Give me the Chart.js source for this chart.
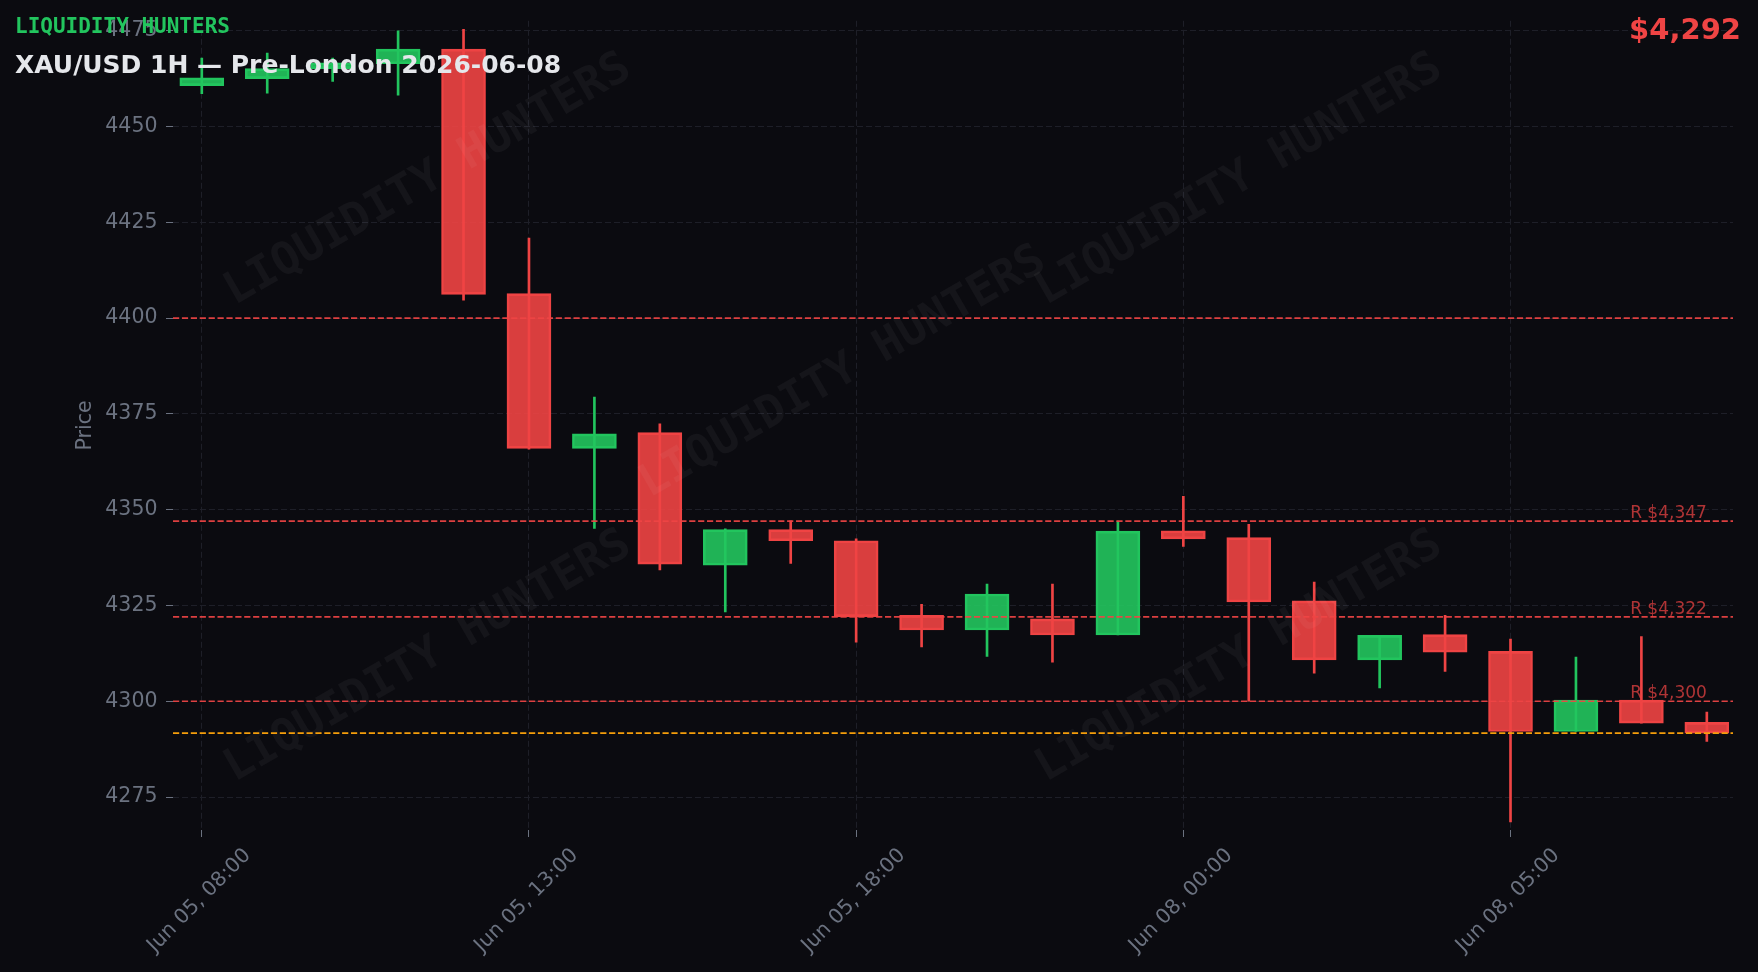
<!DOCTYPE html>
<html>
<head>
<meta charset="utf-8">
<title>XAU/USD 1H — Pre-London 2026-06-08</title>
<script src="https://cdn.jsdelivr.net/npm/chart.js@4/dist/chart.umd.min.js"></script>
<style>
	html, body { margin: 0; padding: 0; background: #0b0b10; overflow: hidden; }
	canvas { display: block; }
</style>
</head>
<body>
<canvas id="chart" width="1758" height="972"></canvas>
<script>
// hourly candles, Jun 05 08:00 -> Jun 08 08:00 (weekend gap)
const opens  = [4460.7, 4462.5, 4465.1, 4466.4, 4470.2, 4406.4, 4366.0, 4370.1, 4335.5, 4344.8, 4341.9, 4322.4, 4318.6, 4321.5, 4317.3, 4344.5, 4342.7, 4326.2, 4310.8, 4317.4, 4313.0, 4292.1, 4300.3, 4294.5];
const highs  = [4467.9, 4469.2, 4467.9, 4475.0, 4475.4, 4420.9, 4379.4, 4372.4, 4345.0, 4347.1, 4342.4, 4325.3, 4330.6, 4330.6, 4347.0, 4353.5, 4346.2, 4331.1, 4317.2, 4322.4, 4316.2, 4311.5, 4316.9, 4297.2];
const lows   = [4458.6, 4458.7, 4461.8, 4458.2, 4404.7, 4365.8, 4345.1, 4334.3, 4323.3, 4336.0, 4315.4, 4314.2, 4311.7, 4310.2, 4317.3, 4340.4, 4300.0, 4307.3, 4303.5, 4307.8, 4268.5, 4292.1, 4294.3, 4289.5];
const closes = [4462.7, 4465.1, 4466.6, 4470.2, 4406.2, 4366.0, 4369.8, 4335.8, 4344.8, 4341.9, 4322.1, 4318.6, 4328.0, 4317.3, 4344.4, 4342.4, 4325.9, 4310.8, 4317.2, 4312.8, 4292.1, 4300.3, 4294.3, 4291.7];

const tickIndex  = [0, 5, 10, 15, 20];
const tickLabels = ['Jun 05, 08:00', 'Jun 05, 13:00', 'Jun 05, 18:00', 'Jun 08, 00:00', 'Jun 08, 05:00'];
const priceTicks = [4275, 4300, 4325, 4350, 4375, 4400, 4425, 4450, 4475];

const roundLevels = [4400];
const resistance  = [4347, 4322, 4300];

const brand = 'LIQUIDITY HUNTERS';
const heading = 'XAU/USD 1H — Pre-London 2026-06-08';

const GREEN = '#22c55e';
const RED = '#ef4444';
const MUTED = '#6b7280';

const isUp = i => closes[i] >= opens[i];
const money = v => '$' + Math.round(v).toLocaleString('en-US');

Chart.defaults.font.family = "'DejaVu Sans', sans-serif";

const overlay = {
	id: 'overlay',
	afterDatasetsDraw(chart) {
		const {ctx, chartArea: a, scales: {x, y}} = chart;
		ctx.save();

		// watermark
		ctx.fillStyle = 'rgba(255,255,255,0.042)';
		ctx.font = "bold 45px 'DejaVu Sans Mono'";
		ctx.textAlign = 'center';
		ctx.textBaseline = 'alphabetic';
		[[0.162, 0.192], [0.682, 0.192], [0.428, 0.43], [0.162, 0.781], [0.682, 0.781]].forEach(([fx, fy]) => {
			ctx.save();
			ctx.translate(a.left + fx * (a.right - a.left), a.top + fy * (a.bottom - a.top));
			ctx.rotate(-Math.PI / 6);
			ctx.fillText(brand, 0, 16.4);
			ctx.restore();
		});

		// levels
		ctx.lineWidth = 1.7;
		ctx.setLineDash([6.2, 2.7]);
		ctx.strokeStyle = 'rgba(239,68,68,0.92)';
		roundLevels.concat(resistance).forEach(v => {
			const py = y.getPixelForValue(v);
			ctx.beginPath();
			ctx.moveTo(a.left, py);
			ctx.lineTo(a.right, py);
			ctx.stroke();
		});
		const last = closes[closes.length - 1];
		const ly = y.getPixelForValue(last);
		ctx.strokeStyle = '#f59e0b';
		ctx.beginPath();
		ctx.moveTo(a.left, ly);
		ctx.lineTo(a.right, ly);
		ctx.stroke();

		ctx.setLineDash([]);
		ctx.fillStyle = 'rgba(239,68,68,0.72)';
		ctx.font = "17px 'DejaVu Sans'";
		ctx.textAlign = 'right';
		ctx.textBaseline = 'alphabetic';
		const lx = x.getPixelForValue(closes.length - 1);
		resistance.forEach(v => {
			ctx.fillText('R ' + money(v), lx, y.getPixelForValue(v) - 3);
		});
		ctx.restore();
	},
	afterDraw(chart) {
		const ctx = chart.ctx;
		ctx.save();
		ctx.textBaseline = 'alphabetic';
		ctx.textAlign = 'left';
		ctx.fillStyle = GREEN;
		ctx.font = "bold 21px 'DejaVu Sans Mono'";
		ctx.fillText(brand, 15, 33);
		ctx.fillStyle = '#e5e7eb';
		ctx.font = "bold 25px 'DejaVu Sans'";
		ctx.fillText(heading, 15, 73);
		ctx.textAlign = 'right';
		ctx.fillStyle = RED;
		ctx.font = "bold 29px 'DejaVu Sans'";
		ctx.fillText(money(closes[closes.length - 1]), 1741, 38.5);
		ctx.restore();
	}
};

const idx = opens.map((_, i) => i);
const fill = c => c.dataIndex !== undefined && isUp(c.dataIndex) ? 'rgba(34,197,94,0.9)' : 'rgba(239,68,68,0.9)';
const edge = c => c.dataIndex !== undefined && isUp(c.dataIndex) ? GREEN : RED;

new Chart(document.getElementById('chart'), {
	type: 'bar',
	data: {
		datasets: [
			{
				label: 'body',
				data: idx.map(i => ({x: i, y: [opens[i], closes[i]]})),
				backgroundColor: fill,
				borderColor: edge,
				borderWidth: 2,
				borderSkipped: false,
				barThickness: 44,
				grouped: false
			},
			{
				label: 'wick',
				data: idx.map(i => ({x: i, y: [lows[i], highs[i]]})),
				backgroundColor: edge,
				borderWidth: 0,
				barThickness: 2,
				grouped: false
			}
		]
	},
	options: {
		responsive: false,
		animation: false,
		devicePixelRatio: 1,
		layout: {padding: {top: 15, right: 25, left: 0, bottom: 0}},
		plugins: {
			legend: {display: false},
			tooltip: {enabled: false}
		},
		scales: {
			x: {
				type: 'linear',
				min: -0.44,
				max: 23.4,
				offset: false,
				afterBuildTicks: s => { s.ticks = tickIndex.map(v => ({value: v})); },
				afterFit: s => { s.height = 142; },
				ticks: {
					callback: (v, i) => tickLabels[i],
					autoSkip: false,
					minRotation: 45,
					maxRotation: 45,
					labelOffset: 46,
					padding: 6.5,
					color: MUTED,
					font: {size: 20.5}
				},
				grid: {
					offset: false,
					color: '#1e1f28',
					lineWidth: 1,
					tickColor: MUTED,
					tickLength: 7,
					tickBorderDash: []
				},
				border: {display: false, dash: [6, 3]}
			},
			y: {
				min: 4266.4,
				max: 4477.6,
				afterBuildTicks: s => { s.ticks = priceTicks.map(v => ({value: v})); },
				afterFit: s => { s.width = 173; },
				ticks: {
					callback: v => String(v),
					color: MUTED,
					padding: 8.5,
					font: {size: 20.5}
				},
				grid: {
					color: '#1e1f28',
					lineWidth: 1,
					tickColor: MUTED,
					tickLength: 7,
					tickBorderDash: []
				},
				border: {display: false, dash: [6, 3]},
				title: {
					display: true,
					text: 'Price',
					color: MUTED,
					font: {size: 20.5},
					padding: {top: 73.7, bottom: 0}
				}
			}
		}
	},
	plugins: [overlay]
});
</script>
</body>
</html>
